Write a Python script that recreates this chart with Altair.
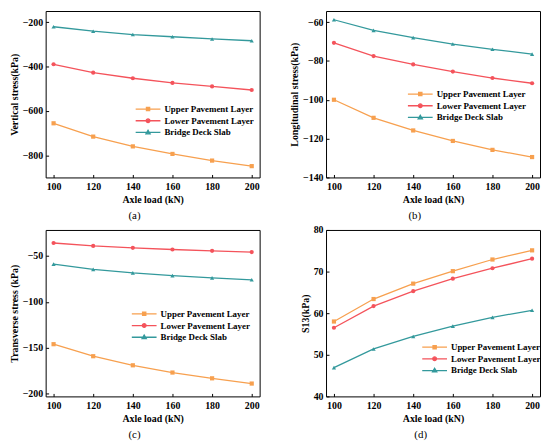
import altair as alt
import pandas as pd

FONT = "Liberation Serif"
W, H = 216, 168
TICK = 3

# ---------------- data ----------------
loads = [100, 120, 140, 160, 180, 200]
x_ticks = [100, 110, 120, 130, 140, 150, 160, 170, 180, 190, 200]
x_domain = [96, 204]

series = ["Upper Pavement Layer", "Lower Pavement Layer", "Bridge Deck Slab"]
colors = ["#F7A04F", "#F4535B", "#33999C"]
shapes = ["square", "circle", "triangle-up"]
legend_paths = [
    "M-1,0H1M-0.13,-0.13H0.13V0.13H-0.13Z",
    "M-1,0H1M0.15,0A0.15,0.15 0 1,1 -0.15,0A0.15,0.15 0 1,1 0.15,0Z",
    "M-1,0H1M0,-0.18L0.17,0.11H-0.17Z",
]

# (a) vertical stress
vert_upper = [-656, -716, -760, -794, -824, -849]
vert_lower = [-390, -428, -453, -474, -490, -506]
vert_bridge = [-221, -241, -256, -266, -276, -284]
vert_ticks = [-800, -700, -600, -500, -400, -300, -200]

# (b) longitudinal stress
long_upper = [-100.0, -109.3, -115.8, -121.2, -125.8, -129.5]
long_lower = [-70.7, -77.5, -81.8, -85.5, -88.8, -91.5]
long_bridge = [-58.8, -64.3, -68.0, -71.3, -74.0, -76.5]
long_ticks = [-140, -130, -120, -110, -100, -90, -80, -70, -60]

# (c) transverse stress
trans_upper = [-146.1, -159.2, -169.1, -177.0, -183.3, -189.0]
trans_lower = [-35.8, -39.0, -41.1, -42.9, -44.3, -45.7]
trans_bridge = [-58.9, -64.5, -68.4, -71.3, -73.8, -75.9]
trans_ticks = [-200, -175, -150, -125, -100, -75, -50, -25]

# (d) S13
s13_upper = [58.0, 63.4, 67.1, 70.1, 72.9, 75.1]
s13_lower = [56.5, 61.7, 65.3, 68.3, 70.8, 73.1]
s13_bridge = [46.9, 51.4, 54.4, 56.9, 59.0, 60.7]
s13_ticks = [40, 45, 50, 55, 60, 65, 70, 75, 80]


def panel(vals, ytitle, ydomain, yticks, ymajor, lxf, lyf, label, fancy):
    rows = []
    for s, v in zip(series, vals):
        for x, y in zip(loads, v):
            rows.append({"load": x, "value": y, "series": s})
    df = pd.DataFrame(rows)
    base = alt.Chart(df)

    xs = alt.Scale(domain=x_domain, nice=False, zero=False)
    ys = alt.Scale(domain=ydomain, nice=False, zero=False)
    cs = alt.Scale(domain=series, range=colors)
    ss = alt.Scale(domain=series, range=shapes)

    x_axis = alt.Axis(orient="bottom", values=x_ticks, tickSize=TICK, offset=-TICK,
                      labelExpr="datum.value % 20 === 0 ? datum.label : ' '",
                      labelOverlap=False,
                      domain=False, grid=False, title="Axle load (kN)",
                      labelPadding=4, titlePadding=3, ticks=True,
                      tickColor="black", tickWidth=1, tickOpacity=1)
    y_axis = alt.Axis(orient="left", values=yticks, tickSize=TICK, offset=-TICK,
                      labelExpr=f"datum.value % {ymajor} === 0 ? datum.label : ' '",
                      labelOverlap=False,
                      domain=False, grid=False, ticks=True,
                      title=ytitle, labelPadding=3, titlePadding=3,
                      tickColor="black", tickWidth=1, tickOpacity=1)

    leg_kwargs = dict(orient="none", legendX=lxf * W, legendY=lyf * H - 6.5,
                      title=None, labelFont=FONT, labelFontSize=9,
                      labelFontWeight="bold", labelColor="black",
                      symbolSize=625, symbolStrokeWidth=1.3, clipHeight=11,
                      rowPadding=0.8, padding=0, labelOffset=3)
    if not fancy:
        leg_kwargs["symbolSize"] = 30
    leg = alt.Legend(**leg_kwargs)

    line = base.mark_line(strokeWidth=1.3).encode(
        x=alt.X("load:Q", scale=xs, axis=x_axis),
        y=alt.Y("value:Q", scale=ys, axis=y_axis),
        color=alt.Color("series:N", scale=cs, legend=None if fancy else leg),
    )
    pts = base.mark_point(filled=True, size=18, opacity=1).encode(
        x=alt.X("load:Q", scale=xs),
        y=alt.Y("value:Q", scale=ys),
        color=alt.Color("series:N", scale=cs, legend=None if fancy else leg),
        shape=alt.Shape("series:N", scale=ss, legend=None),
    )
    title = alt.TitleParams(label, orient="bottom",
                            anchor="middle", frame="bounds", offset=6)
    if not fancy:
        return alt.layer(line, pts).properties(width=W, height=H, title=title)

    key = base.transform_filter("false").mark_point(filled=True, opacity=1).encode(
        x=alt.X("load:Q", scale=xs),
        y=alt.Y("value:Q", scale=ys),
        fill=alt.Fill("series:N", scale=alt.Scale(domain=series, range=colors), legend=leg),
        stroke=alt.Stroke("series:N", scale=alt.Scale(domain=series, range=colors), legend=leg),
        shape=alt.Shape("series:N", scale=alt.Scale(domain=series, range=legend_paths), legend=leg),
    )
    return alt.layer(line, pts, key).resolve_scale(
        shape="independent", fill="independent", stroke="independent"
    ).properties(width=W, height=H, title=title)


def build(fancy):
    a = panel([vert_upper, vert_lower, vert_bridge], "Vertical stress(kPa)",
              [-900, -150], vert_ticks, 200, 0.416, 0.595, "(a)", fancy)
    b = panel([long_upper, long_lower, long_bridge], "Longitudinal stress(kPa)",
              [-140, -54.3], long_ticks, 20, 0.378, 0.505, "(b)", fancy)
    c = panel([trans_upper, trans_lower, trans_bridge], "Transverse stress (kPa)",
              [-203, -21.6], trans_ticks, 50, 0.398, 0.51, "(c)", fancy)
    d = panel([s13_upper, s13_lower, s13_bridge], "S13(kPa)",
              [40, 80], s13_ticks, 10, 0.445, 0.71, "(d)", fancy)

    ch = alt.concat(a, b, c, d, columns=2, bounds="flush",
                    spacing={"row": 53, "column": 67})
    ch = ch.resolve_scale(x="independent", y="independent",
                          color="independent", shape="independent",
                          fill="independent", stroke="independent"
                          ).resolve_legend(color="independent", shape="independent",
                                           fill="independent", stroke="independent")
    ch = ch.properties(padding=0)
    ch = ch.configure_view(stroke="black", strokeWidth=1).configure_axis(
        labelFont=FONT, labelFontSize=10, labelFontWeight="bold", labelColor="black",
        titleFont=FONT, titleFontSize=10, titleFontWeight="bold", titleColor="black",
    ).configure_title(font=FONT, fontSize=11, fontWeight="normal", color="black")
    ch.to_dict()
    return ch


try:
    chart = build(True)
except Exception:
    chart = build(False)

chart.save("out.html", embed_options={"renderer": "svg", "actions": False})
